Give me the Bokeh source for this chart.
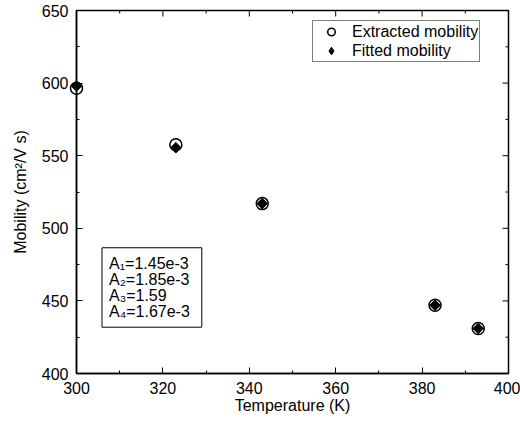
import numpy as np
from bokeh.plotting import figure
from bokeh.models import (Range1d, SingleIntervalTicker, Legend, LegendItem, Label)
from bokeh.embed import file_html
from bokeh.resources import INLINE

# ---- data ----
temperature = [300, 323, 343, 383, 393]
extracted_mobility = [596.5, 557.5, 517, 447, 431]
fitted_mobility = [598, 555.5, 517, 447, 431]
legend_labels = ["Extracted mobility", "Fitted mobility"]
param_lines = ["A\u2081=1.45e-3", "A\u2082=1.85e-3", "A\u2083=1.59", "A\u2084=1.67e-3"]
x_label = "Temperature (K)"
y_label = "Mobility (cm\u00b2/V s)"

FONT = "Liberation Sans"

# ---- layout constants ----
X_MIN, X_MAX, X_STEP = 300, 400, 20
Y_MIN, Y_MAX, Y_STEP = 400, 650, 50
BOX_X, BOX_Y = 305.9, 486.6      # top-left corner of parameter box (data units)
LEGEND_POS = (236, 311)           # screen px from frame bottom-left

p = figure(width=520, height=421,
           x_range=Range1d(X_MIN, X_MAX), y_range=Range1d(Y_MIN, Y_MAX),
           output_backend="svg", toolbar_location=None,
           min_border_left=76, min_border_right=12,
           min_border_top=10, min_border_bottom=48)
p.grid.visible = False
p.outline_line_color = "black"
p.outline_line_width = 1.5
p.background_fill_color = "white"
p.border_fill_color = "white"

for ax, step in ((p.xaxis[0], X_STEP), (p.yaxis[0], Y_STEP)):
    ax.ticker = SingleIntervalTicker(interval=step, num_minor_ticks=2)
    ax.axis_line_color = "black"
    ax.axis_line_width = 1.5
    ax.major_tick_in = 6
    ax.major_tick_out = 0
    ax.minor_tick_in = 3
    ax.minor_tick_out = 0
    ax.major_tick_line_color = "black"
    ax.minor_tick_line_color = "black"
    ax.major_label_text_font = FONT
    ax.major_label_text_color = "black"
    ax.major_label_text_font_size = "16px"
    ax.axis_label_text_font = FONT
    ax.axis_label_text_font_style = "normal"
    ax.axis_label_text_font_size = "16px"
    ax.axis_label_text_color = "black"

p.xaxis.axis_label = x_label
p.yaxis.axis_label = y_label
p.xaxis.major_label_standoff = 8
p.xaxis.axis_label_standoff = 0
p.yaxis.major_label_standoff = 8
p.yaxis.axis_label_standoff = 10

# mirrored inward ticks on the top and right frame edges (clipped to the frame)
top_major = np.arange(X_MIN, X_MAX + 1, X_STEP)
top_minor = top_major[:-1] + X_STEP / 2
right_major = np.arange(Y_MIN, Y_MAX + 1, Y_STEP)
right_minor = right_major[:-1] + Y_STEP / 2
p.scatter(top_major, [Y_MAX] * len(top_major), marker="dash", angle=np.pi / 2,
          size=12, line_color="black", line_width=1)
p.scatter(top_minor, [Y_MAX] * len(top_minor), marker="dash", angle=np.pi / 2,
          size=6, line_color="black", line_width=1)
p.scatter([X_MAX] * len(right_major), right_major, marker="dash",
          size=12, line_color="black", line_width=1)
p.scatter([X_MAX] * len(right_minor), right_minor, marker="dash",
          size=6, line_color="black", line_width=1)

r_ext = p.scatter(temperature, extracted_mobility, marker="circle", size=12,
                  fill_color=None, line_color="black", line_width=1.5,
                  level="overlay")
r_fit = p.scatter(temperature, fitted_mobility, marker="square", angle=np.pi / 4,
                  size=7.5, fill_color="black", line_color="black", line_width=1,
                  level="overlay")
# proxy for the legend swatch (legend swatches are never rotated)
r_fit_key = p.scatter(temperature, fitted_mobility, marker="diamond", size=10,
                      fill_color="black", line_color="black", visible=False)

legend = Legend(items=[LegendItem(label=legend_labels[0], renderers=[r_ext]),
                       LegendItem(label=legend_labels[1], renderers=[r_fit_key])],
                location=LEGEND_POS,
                border_line_color="black", border_line_width=1,
                background_fill_color="white", background_fill_alpha=1,
                label_text_font=FONT, label_text_font_size="16px",
                label_text_color="black",
                glyph_width=34, glyph_height=19, label_height=19,
                spacing=0, padding=1, label_standoff=4, margin=0)
p.add_layout(legend)

params = Label(x=BOX_X, y=BOX_Y, text="\n".join(param_lines),
               text_font=FONT, text_font_size="16px", text_color="black",
               text_align="left", text_baseline="top", text_line_height=0.95,
               border_line_color="black", border_line_width=1,
               background_fill_color="white",
               padding=dict(left=7, right=12, top=7, bottom=7))
p.add_layout(params)

open("out.html", "w").write(file_html(p, INLINE))
